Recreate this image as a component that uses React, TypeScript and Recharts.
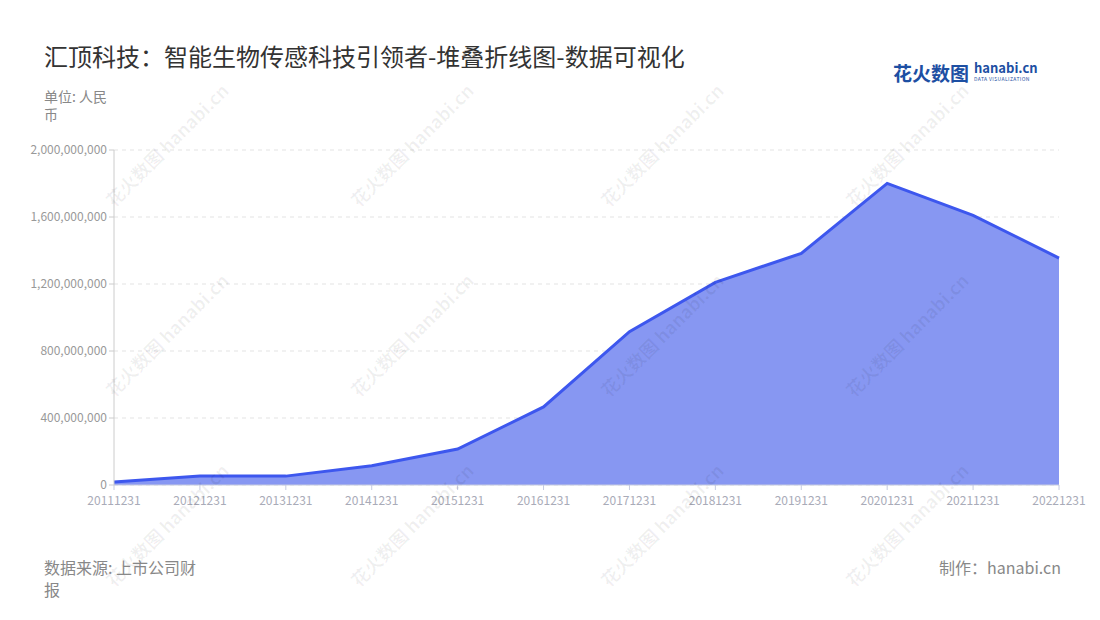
import React from "react"
import { AreaChart, Area, XAxis, YAxis, CartesianGrid } from "recharts"

const categories = [
    "20111231", "20121231", "20131231", "20141231", "20151231", "20161231",
    "20171231", "20181231", "20191231", "20201231", "20211231", "20221231",
]

const revenue = [
    18000000, 54000000, 53000000, 115000000, 215000000, 466000000,
    915000000, 1210000000, 1383000000, 1801000000, 1610000000, 1355000000,
]

const yTicks = [0, 400000000, 800000000, 1200000000, 1600000000, 2000000000]

const chartData = categories.map((date, i) => ({ date, value: revenue[i] }))

const FONT = '"Noto Sans CJK SC", "Noto Sans", sans-serif'

// faint watermark positions (centre points)
const marks = [
    [165, 145], [410, 145], [660, 145], [905, 145],
    [165, 335], [410, 335], [660, 335], [905, 335],
    [165, 525], [410, 525], [660, 525], [905, 525],
]

function Watermark({ x, y }: { x: number; y: number }) {
    return (
        <div
            style={{
                position: "absolute",
                left: x - 80,
                top: y - 12,
                width: 160,
                textAlign: "center",
                transform: "rotate(-45deg)",
                color: "rgba(0,0,0,0.06)",
                fontSize: 18,
                fontWeight: 700,
                whiteSpace: "nowrap",
                pointerEvents: "none",
            }}
        >
            花火数图 hanabi.cn
        </div>
    )
}

export default function App() {
    return (
        <div
            style={{
                position: "absolute",
                left: 0,
                top: 0,
                width: 1100,
                height: 620,
                background: "#fff",
                fontFamily: FONT,
                overflow: "hidden",
            }}
        >
            <div style={{ position: "absolute", left: 44, top: 38, fontSize: 24, color: "#333", whiteSpace: "nowrap" }}>
                汇顶科技：智能生物传感科技引领者-堆叠折线图-数据可视化
            </div>
            <div style={{ position: "absolute", left: 893, top: 62, display: "flex", alignItems: "center" }}>
                <span style={{ fontSize: 19, fontWeight: 700, color: "#1d4fa3", lineHeight: 1 }}>花火数图</span>
                <span style={{ marginLeft: 5, display: "flex", flexDirection: "column" }}>
                    <span style={{ fontSize: 13, fontWeight: 700, color: "#1d4fa3", lineHeight: "12px" }}>hanabi.cn</span>
                    <span style={{ fontSize: 5, color: "#1d4fa3", letterSpacing: 0.4, lineHeight: "6px", marginTop: 2 }}>DATA VISUALIZATION</span>
                </span>
            </div>
            <div style={{ position: "absolute", left: 44, top: 87, width: 70, fontSize: 14, lineHeight: "18px", color: "#888" }}>
                单位: 人民币
            </div>

            <AreaChart
                width={1100}
                height={620}
                data={chartData}
                margin={{ top: 150, right: 41, bottom: 105, left: 0 }}
            >
                <CartesianGrid vertical={false} stroke="#e3e3e3" strokeDasharray="4 4" />
                <XAxis
                    dataKey="date"
                    interval={0}
                    height={30}
                    stroke="#c6cbe0"
                    tick={{ fill: "#a9abb8", fontSize: 12, fontFamily: FONT }}
                    tickSize={5}
                    tickMargin={6}
                />
                <YAxis
                    width={114}
                    domain={[0, 2000000000]}
                    ticks={yTicks}
                    stroke="#cccccc"
                    tick={{ fill: "#999", fontSize: 12, fontFamily: FONT }}
                    tickSize={5}
                    tickFormatter={(v: number) => v.toLocaleString("en-US")}
                />
                <Area
                    type="linear"
                    dataKey="value"
                    stroke="#3d57ee"
                    strokeWidth={3}
                    fill="#8797f2"
                    fillOpacity={1}
                    isAnimationActive={false}
                    dot={false}
                    activeDot={false}
                />
            </AreaChart>

            {marks.map(([x, y], i) => (
                <Watermark key={i} x={x} y={y} />
            ))}

            <div style={{ position: "absolute", left: 44, top: 556, width: 158, fontSize: 16, lineHeight: "22px", color: "#888" }}>
                数据来源: 上市公司财报
            </div>
            <div style={{ position: "absolute", right: 39, top: 556, fontSize: 16, lineHeight: "22px", color: "#888" }}>
                制作：hanabi.cn
            </div>
        </div>
    )
}
